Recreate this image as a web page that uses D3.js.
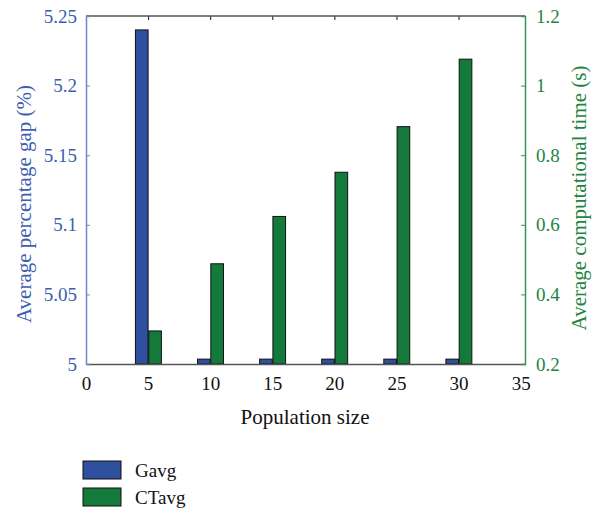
<!DOCTYPE html>
<html>
<head>
<meta charset="utf-8">
<script src="https://cdn.jsdelivr.net/npm/d3@7"></script>
<style>
  body { margin: 0; background: #fff; }
  svg text { font-family: "Times New Roman", Times, "Liberation Serif", serif; }
</style>
</head>
<body>
<div id="chart"></div>
<script>
// data
const popSizes = [5, 10, 15, 20, 25, 30];
const gavg = [5.24, 5.0035, 5.0035, 5.0035, 5.0035, 5.0035];
const ctavg = [0.295, 0.488, 0.624, 0.751, 0.882, 1.076];
const xTicks = [0, 5, 10, 15, 20, 25, 30, 35];
const leftTicks = [5, 5.05, 5.1, 5.15, 5.2, 5.25];
const rightTicks = [0.2, 0.4, 0.6, 0.8, 1, 1.2];

const blue = "#2f4f9f";
const green = "#147a3c";
const blueText = "#3d5eb0";
const greenText = "#1f8440";

const svg = d3.select("#chart")
    .append("svg")
    .attr("width", 592)
    .attr("height", 512);

const plotLeft = 86, plotRight = 525, plotTop = 16, plotBottom = 364;

// x axis scale
const xScale = d3.scaleLinear().domain([0, 35.35]).range([plotLeft, plotRight]);
// left and right y scales
const yLeft = d3.scaleLinear().domain([5, 5.25]).range([plotBottom, plotTop]);
const yRight = d3.scaleLinear().domain([0.2, 1.2]).range([plotBottom, plotTop]);

const barW = xScale(1.02) - xScale(0);

// bars
svg.append("g").selectAll("rect")
    .data(popSizes.map((p, i) => ({ p: p, v: gavg[i] })))
    .join("rect")
    .attr("x", d => xScale(d.p) - barW)
    .attr("y", d => yLeft(d.v))
    .attr("width", barW)
    .attr("height", d => plotBottom - yLeft(d.v))
    .attr("fill", blue)
    .attr("stroke", "#111")
    .attr("stroke-width", 1);

svg.append("g").selectAll("rect")
    .data(popSizes.map((p, i) => ({ p: p, v: ctavg[i] })))
    .join("rect")
    .attr("x", d => xScale(d.p + 0.05))
    .attr("y", d => yRight(d.v))
    .attr("width", barW)
    .attr("height", d => plotBottom - yRight(d.v))
    .attr("fill", green)
    .attr("stroke", "#111")
    .attr("stroke-width", 1);

// bottom axis
const xAxis = svg.append("g")
    .attr("transform", `translate(0,${plotBottom})`)
    .call(d3.axisBottom(xScale).tickValues(xTicks).tickSize(0).tickPadding(13));
xAxis.select(".domain").attr("stroke", "#555").attr("stroke-width", 1.5);
xAxis.selectAll("text").attr("font-size", 19).attr("fill", "#111");

// top axis with inward ticks
const topAxis = svg.append("g")
    .attr("transform", `translate(0,${plotTop})`)
    .call(d3.axisTop(xScale).tickValues(xTicks.slice(1, 7)).tickSize(-4).tickFormat(""));
topAxis.select(".domain").remove();
topAxis.selectAll("line").attr("stroke", "#111");
svg.append("line")
    .attr("x1", plotLeft).attr("x2", plotRight)
    .attr("y1", plotTop).attr("y2", plotTop)
    .attr("stroke", "#555").attr("stroke-width", 1.5);

// left axis
const yAxisL = svg.append("g")
    .attr("transform", `translate(${plotLeft},0)`)
    .call(d3.axisLeft(yLeft).tickValues(leftTicks).tickSize(-4).tickPadding(9)
        .tickFormat(d => d3.format("")(+d.toFixed(2))));
yAxisL.select(".domain").attr("stroke", "#6f87c4").attr("stroke-width", 1.5);
yAxisL.selectAll("line").attr("stroke", "#6f87c4");
yAxisL.selectAll("text").attr("font-size", 19).attr("fill", blueText);

// right axis
const yAxisR = svg.append("g")
    .attr("transform", `translate(${plotRight},0)`)
    .call(d3.axisRight(yRight).tickValues(rightTicks).tickSize(-4).tickPadding(11)
        .tickFormat(d => d3.format("")(+d.toFixed(1))));
yAxisR.select(".domain").attr("stroke", "#3a9255").attr("stroke-width", 1.5);
yAxisR.selectAll("line").attr("stroke", "#3a9255");
yAxisR.selectAll("text").attr("font-size", 19).attr("fill", greenText);

// axis titles
svg.append("text")
    .attr("x", 305).attr("y", 424)
    .attr("text-anchor", "middle")
    .attr("font-size", 21).attr("fill", "#111")
    .text("Population size");

svg.append("text")
    .attr("transform", "translate(31,204) rotate(-90)")
    .attr("text-anchor", "middle")
    .attr("font-size", 21).attr("fill", blueText)
    .text("Average percentage gap (%)");

svg.append("text")
    .attr("transform", "translate(586,198) rotate(-90)")
    .attr("text-anchor", "middle")
    .attr("font-size", 21).attr("fill", greenText)
    .text("Average computational time (s)");

// legend
const legendItems = [{ name: "Gavg", color: blue }, { name: "CTavg", color: green }];
const legend = svg.append("g").selectAll("g")
    .data(legendItems)
    .join("g")
    .attr("transform", (d, i) => `translate(83,${461 + i * 27})`);
legend.append("rect")
    .attr("width", 38).attr("height", 18)
    .attr("fill", d => d.color)
    .attr("stroke", "#111").attr("stroke-width", 1);
legend.append("text")
    .attr("x", 52).attr("y", 16)
    .attr("font-size", 19).attr("fill", "#111")
    .text(d => d.name);
</script>
</body>
</html>
